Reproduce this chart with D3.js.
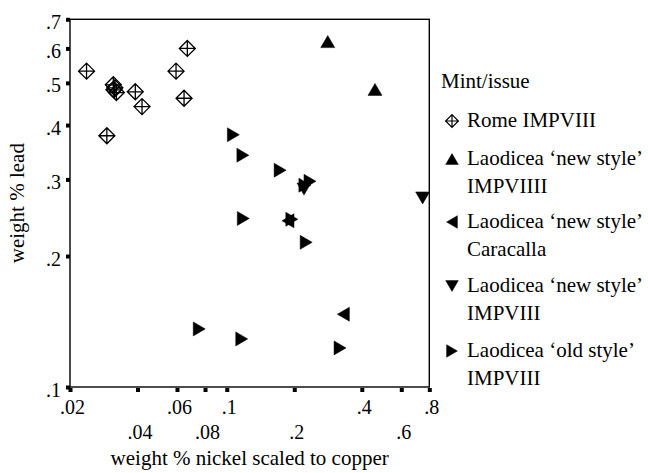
<!DOCTYPE html>
<meta charset="utf-8">
<style>
  svg text { font-family: "Liberation Serif", "Times New Roman", Times, "DejaVu Serif", serif; }
</style>
<body style="margin:0;background:#fff;">
<script src="https://d3js.org/d3.v7.min.js"></script>
<script>
// Data (weight % nickel scaled to copper, weight % lead)
var romeX = [0.0237, 0.0292, 0.0312, 0.0317, 0.0314, 0.0322, 0.0391, 0.0419, 0.0594, 0.0667, 0.0645];
var romeY = [0.532, 0.378, 0.495, 0.487, 0.482, 0.475, 0.477, 0.441, 0.532, 0.600, 0.461];

var newIX9X = [0.282, 0.458];
var newIX9Y = [0.622, 0.483];

var caracallaX = [0.331, 0.1875];
var caracallaY = [0.147, 0.241];

var newIX8X = [0.747, 0.221];
var newIX8Y = [0.272, 0.285];

var oldX = [0.107, 0.118, 0.173, 0.235, 0.223, 0.1185, 0.195, 0.226, 0.0754, 0.1166, 0.320];
var oldY = [0.380, 0.341, 0.315, 0.297, 0.291, 0.244, 0.243, 0.215, 0.136, 0.129, 0.123];

var xTicks = [0.02, 0.04, 0.06, 0.08, 0.1, 0.2, 0.4, 0.6, 0.8];
var yTicks = [0.1, 0.2, 0.3, 0.4, 0.5, 0.6, 0.7];

var legendTitle = "Mint/issue";
var legendLabels = [
  ["Rome IMPVIII"],
  ["Laodicea \u2018new style\u2019", "IMPVIIII"],
  ["Laodicea \u2018new style\u2019", "Caracalla"],
  ["Laodicea \u2018new style\u2019", "IMPVIII"],
  ["Laodicea \u2018old style\u2019", "IMPVIII"]
];
var legendShapes = ["diamond", "up", "left", "down", "right"];

// layout (plot box in pixels)
var W = 648, H = 473;
var plotL = 70, plotR = 429.3, plotT = 19.3, plotB = 387;

var svg = d3.select("body").append("svg")
  .attr("width", W).attr("height", H)
  .style("display", "block");

var x = d3.scaleLog().domain([0.02, 0.8]).range([plotL, plotR]);
var y = d3.scaleLog().domain([0.1, 0.7]).range([plotB, plotT]);

// frame
svg.append("rect")
  .attr("x", plotL).attr("y", plotT)
  .attr("width", plotR - plotL).attr("height", plotB - plotT)
  .attr("fill", "none").attr("stroke", "#000").attr("stroke-width", 1.4);

// marker paths
function shapePath(type, s) {
  var r = 8 * s, a = 7 * s, b = 6 * s;
  if (type == "diamond") {
    return "M0," + (-r) + "L" + r + ",0L0," + r + "L" + (-r) + ",0Z" +
      "M0," + (-r) + "L0," + r + "M" + (-r) + ",0L" + r + ",0";
  }
  if (type == "up") return "M0," + (-b) + "L" + a + "," + b + "L" + (-a) + "," + b + "Z";
  if (type == "down") return "M0," + b + "L" + a + "," + (-b) + "L" + (-a) + "," + (-b) + "Z";
  if (type == "right") return "M" + b + ",0L" + (-b) + "," + (-a) + "L" + (-b) + "," + a + "Z";
  if (type == "left") return "M" + (-b) + ",0L" + b + "," + (-a) + "L" + b + "," + a + "Z";
}

function drawSeries(xs, ys, type) {
  svg.append("g").selectAll("path")
    .data(xs)
    .enter().append("path")
    .attr("transform", function(d, i) { return "translate(" + x(d) + "," + y(ys[i]) + ")"; })
    .attr("d", shapePath(type, 1))
    .attr("fill", type == "diamond" ? "none" : "#000")
    .attr("stroke", "#000")
    .attr("stroke-width", type == "diamond" ? 1.3 : 0.5);
}

drawSeries(romeX, romeY, "diamond");
drawSeries(newIX9X, newIX9Y, "up");
drawSeries(caracallaX, caracallaY, "left");
drawSeries(newIX8X, newIX8Y, "down");
drawSeries(oldX, oldY, "right");

function fmt(v) { return String(v).replace(/^0/, ""); }

// x axis: square tick marks, staggered labels
var gx = svg.append("g")
  .attr("transform", "translate(0," + plotB + ")")
  .call(d3.axisBottom(x).tickValues(xTicks).tickFormat(fmt).tickSize(4).tickPadding(0));
gx.attr("font-family", null).attr("font-size", null);
gx.select(".domain").remove();
gx.selectAll(".tick line").attr("stroke-width", 4).attr("y1", 1).attr("y2", 5);
gx.selectAll(".tick text")
  .style("font-size", "20px").attr("fill", "#000")
  .attr("dy", null).attr("dx", 2)
  .attr("y", function(d, i) { return i % 2 == 0 ? 27 : 52; });

// y axis
var gy = svg.append("g")
  .attr("transform", "translate(" + plotL + ",0)")
  .call(d3.axisLeft(y).tickValues(yTicks).tickFormat(fmt).tickSize(4).tickPadding(0));
gy.attr("font-family", null).attr("font-size", null);
gy.select(".domain").remove();
gy.selectAll(".tick line").attr("stroke-width", 4).attr("x1", 0).attr("x2", -4);
gy.selectAll(".tick text")
  .style("font-size", "20px").attr("fill", "#000")
  .attr("x", -9).attr("dy", 9);

// axis titles
svg.append("text")
  .attr("x", (plotL + plotR) / 2).attr("y", 465)
  .attr("text-anchor", "middle")
  .style("font-size", "21px")
  .text("weight % nickel scaled to copper");

svg.append("text")
  .attr("transform", "translate(24," + ((plotT + plotB) / 2) + ") rotate(-90)")
  .attr("text-anchor", "middle")
  .style("font-size", "21px")
  .text("weight % lead");

// legend
var lg = svg.append("g");
lg.append("text")
  .attr("x", 441).attr("y", 88)
  .style("font-size", "21px")
  .text(legendTitle);

var rowBase = [127, 165, 228, 292, 357];
legendLabels.forEach(function(lines, i) {
  var t = legendShapes[i];
  lg.append("path")
    .attr("transform", "translate(452," + (rowBase[i] - 6) + ")")
    .attr("d", shapePath(t, t == "diamond" ? 0.8 : 0.9))
    .attr("fill", t == "diamond" ? "none" : "#000")
    .attr("stroke", "#000")
    .attr("stroke-width", t == "diamond" ? 1.2 : 0.5);
  lines.forEach(function(s, j) {
    lg.append("text")
      .attr("x", 467).attr("y", rowBase[i] + j * 28)
      .style("font-size", "21px")
      .text(s);
  });
});
</script>
</body>
